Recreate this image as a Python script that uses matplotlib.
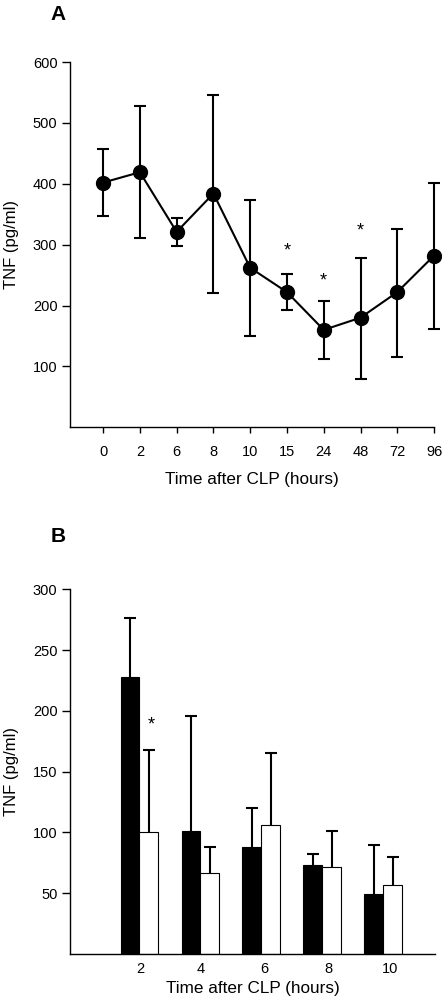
import numpy as np
import matplotlib
matplotlib.use('Agg')
import matplotlib.pyplot as plt

plt.rcParams['font.family'] = ['Liberation Sans', 'DejaVu Sans']

# Panel A: TNF over time after CLP
time_labels_a = ['0', '2', '6', '8', '10', '15', '24', '48', '72', '96']
tnf_a = [402, 419, 321, 384, 262, 222, 160, 180, 222, 282]
err_hi_a = [457, 527, 344, 546, 373, 252, 207, 278, 326, 402]
err_lo_a = [347, 311, 297, 221, 150, 193, 112, 79, 115, 161]
star_a = {'15': 290, '24': 240, '48': 323}

# Panel B: paired bars
time_labels_b = ['2', '4', '6', '8', '10']
black_b = [228, 101, 88, 73, 49]
black_err_b = [276, 196, 120, 82, 89.5]
white_b = [100, 67, 106, 72, 57]
white_err_b = [167.5, 88, 165, 101.5, 80]
star_b = [(0, 188)]

fig = plt.figure(figsize=(4.42, 9.99), dpi=100)

# ---- A ----
ax1 = fig.add_axes([0.1584, 0.5723, 0.8236, 0.3656])
xa = np.arange(len(tnf_a))
lo = np.array(tnf_a) - np.array(err_lo_a)
hi = np.array(err_hi_a) - np.array(tnf_a)
ax1.errorbar(xa, tnf_a, yerr=[lo, hi], fmt='-o', color='black', ms=10,
             lw=1.5, elinewidth=1.5, capsize=4, capthick=1.5, clip_on=False)
for lab, yv in star_a.items():
    i = time_labels_a.index(lab)
    ax1.text(xa[i], yv, '*', ha='center', va='center', fontsize=13)
ax1.set_xlim(-0.9, 9)
ax1.set_ylim(0, 600)
ax1.set_yticks([100, 200, 300, 400, 500, 600])
ax1.set_xticks(xa)
ax1.set_xticklabels(time_labels_a)
ax1.set_ylabel('TNF (pg/ml)', fontsize=12, labelpad=10)
ax1.set_xlabel('Time after CLP (hours)', fontsize=12.3, labelpad=9)
ax1.tick_params(axis='y', length=6, width=1, labelsize=10.5, pad=3)
ax1.tick_params(axis='x', length=4, width=1, labelsize=10.5, pad=9)
for s in ['top', 'right']:
    ax1.spines[s].set_visible(False)
ax1.spines['left'].set_linewidth(1)
ax1.spines['bottom'].set_linewidth(1)
fig.text(0.131, 0.9855, 'A', fontsize=15, fontweight='bold', va='center', ha='center')

# ---- B ----
ax2 = fig.add_axes([0.1584, 0.045, 0.8258, 0.3651])
xb = np.arange(len(black_b))
w = 0.31
ax2.bar(xb - w / 2, black_b, width=w, color='black', edgecolor='black', lw=0.8)
ax2.bar(xb + w / 2, white_b, width=w, color='white', edgecolor='black', lw=0.8)
# upward-only error bars
for xs, tops, errs in [(xb - w / 2, black_b, black_err_b), (xb + w / 2, white_b, white_err_b)]:
    ax2.vlines(xs, tops, errs, color='black', lw=1.5)
    ax2.plot(xs, errs, ls='none', marker='_', ms=8, mew=1.5, color='black')
for i, yv in star_b:
    ax2.text(xb[i] + w / 2 + 0.04, yv, '*', ha='center', va='center', fontsize=13)
ax2.set_xlim(-1.14, 4.85)
ax2.set_ylim(0, 300)
ax2.set_yticks([50, 100, 150, 200, 250, 300])
ax2.set_xticks(xb + np.array([0.02, 0.0, 0.05, 0.1, 0.12]))
ax2.set_xticklabels(time_labels_b)
ax2.set_ylabel('TNF (pg/ml)', fontsize=12, labelpad=10)
ax2.set_xlabel('Time after CLP (hours)', fontsize=12.3, labelpad=3)
ax2.tick_params(axis='y', length=6, width=1, labelsize=10.5, pad=3)
ax2.tick_params(axis='x', length=0, labelsize=10.5, pad=6)
for s in ['top', 'right']:
    ax2.spines[s].set_visible(False)
ax2.spines['left'].set_linewidth(1)
ax2.spines['bottom'].set_linewidth(1)
fig.text(0.131, 0.4625, 'B', fontsize=15, fontweight='bold', va='center', ha='center')

fig.savefig('out.png', dpi=100)
